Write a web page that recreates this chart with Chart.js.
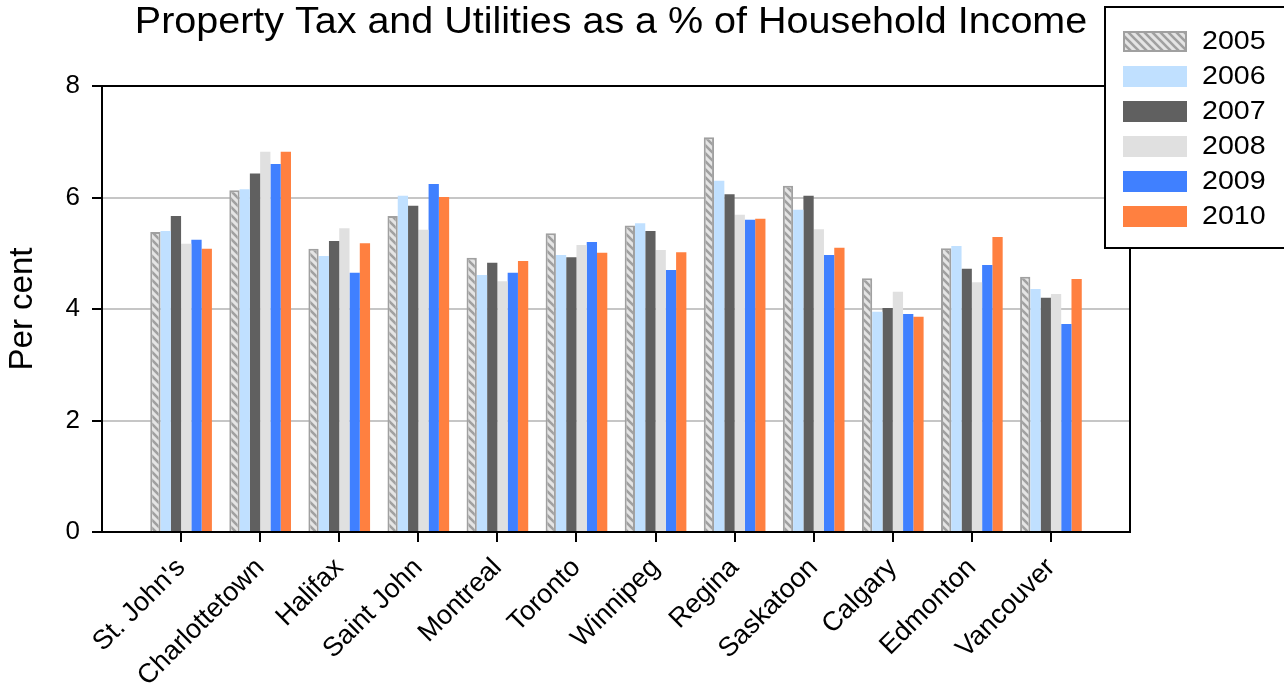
<!DOCTYPE html>
<html>
<head>
<meta charset="utf-8">
<script src="https://cdn.jsdelivr.net/npm/chart.js@4/dist/chart.umd.min.js"></script>
<style>
html,body{margin:0;padding:0;background:#fff;}
#wrap{width:1284px;height:683px;position:relative;}
</style>
</head>
<body>
<div id="wrap"><canvas id="c"></canvas></div>
<script>
const TITLE = 'Property Tax and Utilities as a % of Household Income';
const Y_TITLE = 'Per cent';
const cities = ["St. John's", 'Charlottetown', 'Halifax', 'Saint John', 'Montreal', 'Toronto', 'Winnipeg', 'Regina', 'Saskatoon', 'Calgary', 'Edmonton', 'Vancouver'];
const years = ['2005', '2006', '2007', '2008', '2009', '2010'];
const y2005 = [5.38, 6.13, 5.08, 5.67, 4.92, 5.36, 5.50, 7.08, 6.21, 4.55, 5.09, 4.58];
const y2006 = [5.40, 6.15, 4.95, 6.03, 4.61, 4.97, 5.54, 6.30, 5.78, 3.95, 5.13, 4.36];
const y2007 = [5.67, 6.43, 5.22, 5.85, 4.83, 4.93, 5.40, 6.06, 6.03, 4.02, 4.72, 4.20];
const y2008 = [5.17, 6.82, 5.45, 5.42, 4.50, 5.15, 5.06, 5.69, 5.43, 4.31, 4.48, 4.27];
const y2009 = [5.24, 6.60, 4.65, 6.24, 4.65, 5.20, 4.70, 5.60, 4.97, 3.91, 4.79, 3.73];
const y2010 = [5.08, 6.82, 5.18, 6.01, 4.86, 5.01, 5.02, 5.62, 5.10, 3.86, 5.29, 4.54];
const yTicks = [0, 2, 4, 6, 8];

const FONT = '"Liberation Sans", Arial, Helvetica, sans-serif';

function hatch() {
  const p = document.createElement('canvas');
  p.width = 8; p.height = 8;
  const g = p.getContext('2d');
  g.fillStyle = '#e4e4e4';
  g.fillRect(0, 0, 8, 8);
  g.strokeStyle = '#a0a0a0';
  g.lineWidth = 2.6;
  g.beginPath();
  g.moveTo(-2, -2); g.lineTo(10, 10);
  g.moveTo(-10, -2); g.lineTo(2, 10);
  g.moveTo(6, -2); g.lineTo(18, 10);
  g.stroke();
  return g.createPattern(p, 'repeat');
}

// padded category axis: an empty slot at each end
const labels = [''].concat(cities, ['']);
const pad = arr => [null].concat(arr, [null]);

const series = [y2005, y2006, y2007, y2008, y2009, y2010];
const colors = [hatch(), '#c0e0ff', '#606060', '#e0e0e0', '#4080ff', '#ff8040'];

const datasets = series.map((s, i) => ({
  label: years[i],
  data: pad(s),
  backgroundColor: colors[i],
  borderColor: i === 0 ? '#a0a0a0' : 'rgba(0,0,0,0)',
  borderWidth: i === 0 ? 2 : 0,
  categoryPercentage: 0.78,
  barPercentage: 1.0
}));

const decor = {
  id: 'decor',
  afterDraw(chart) {
    const ctx = chart.ctx, a = chart.chartArea;
    ctx.save();
    ctx.strokeStyle = '#000';
    ctx.lineWidth = 2;
    ctx.beginPath();
    ctx.moveTo(a.left, a.top);
    ctx.lineTo(a.right, a.top);
    ctx.lineTo(a.right, a.bottom);
    ctx.stroke();

    // title (slightly widened to match the reference proportions)
    ctx.save();
    ctx.translate(611, 23);
    ctx.scale(1.067, 1);
    ctx.fillStyle = '#000';
    ctx.font = '37px ' + FONT;
    ctx.textAlign = 'center';
    ctx.textBaseline = 'middle';
    ctx.fillText(TITLE, 0, 0);
    ctx.restore();

    // legend
    const lx = 1105, ly = 7;
    ctx.fillStyle = '#fff';
    ctx.fillRect(lx, ly, 200, 241);
    ctx.strokeStyle = '#000';
    ctx.lineWidth = 2;
    ctx.strokeRect(lx, ly, 200, 241);
    chart.data.datasets.forEach((d, i) => {
      const sy = 31 + 35 * i;
      ctx.fillStyle = d.backgroundColor;
      ctx.fillRect(1123, sy, 64, 21);
      if (d.borderWidth) {
        ctx.strokeStyle = d.borderColor;
        ctx.lineWidth = d.borderWidth;
        ctx.strokeRect(1124, sy + 1, 62, 19);
      }
      ctx.save();
      ctx.translate(1202, sy + 11);
      ctx.scale(1.1, 1);
      ctx.font = '26px ' + FONT;
      ctx.textAlign = 'left';
      ctx.textBaseline = 'middle';
      ctx.fillStyle = '#000';
      ctx.fillText(d.label, 0, 0);
      ctx.restore();
    });
    ctx.restore();
  }
};

new Chart(document.getElementById('c'), {
  type: 'bar',
  data: { labels: labels, datasets: datasets },
  plugins: [decor],
  options: {
    responsive: true,
    maintainAspectRatio: false,
    animation: false,
    layout: { padding: { left: 0, top: 86, right: 154, bottom: 0 } },
    plugins: { legend: { display: false }, title: { display: false }, tooltip: { enabled: false } },
    scales: {
      x: {
        offset: false,
        afterFit: s => { s.height = 151; },
        border: { display: true, color: '#000', width: 2 },
        grid: {
          display: true,
          offset: false,
          drawOnChartArea: false,
          drawTicks: true,
          tickLength: 10,
          lineWidth: 2,
          tickWidth: 2,
          color: ctx => (ctx.index === 0 || ctx.index === labels.length - 1) ? 'rgba(0,0,0,0)' : '#000',
          tickColor: ctx => (ctx.index === 0 || ctx.index === labels.length - 1) ? 'rgba(0,0,0,0)' : '#000'
        },
        ticks: {
          autoSkip: false,
          maxRotation: 45,
          minRotation: 45,
          padding: 10,
          color: '#000',
          font: { family: FONT, size: 27 }
        }
      },
      y: {
        min: 0,
        max: 8,
        afterFit: s => { s.width = 102; },
        afterBuildTicks: s => { s.ticks = yTicks.map(v => ({ value: v })); },
        border: { display: true, color: '#000', width: 2 },
        grid: {
          color: '#c6c6c6',
          lineWidth: 2,
          tickColor: '#000',
          tickLength: 10,
          tickWidth: 2
        },
        ticks: {
          padding: 12,
          color: '#000',
          font: { family: FONT, size: 26 }
        },
        title: {
          display: true,
          text: Y_TITLE,
          color: '#000',
          padding: { top: 3, bottom: 0 },
          font: { family: FONT, size: 33 }
        }
      }
    }
  }
});
</script>
</body>
</html>
